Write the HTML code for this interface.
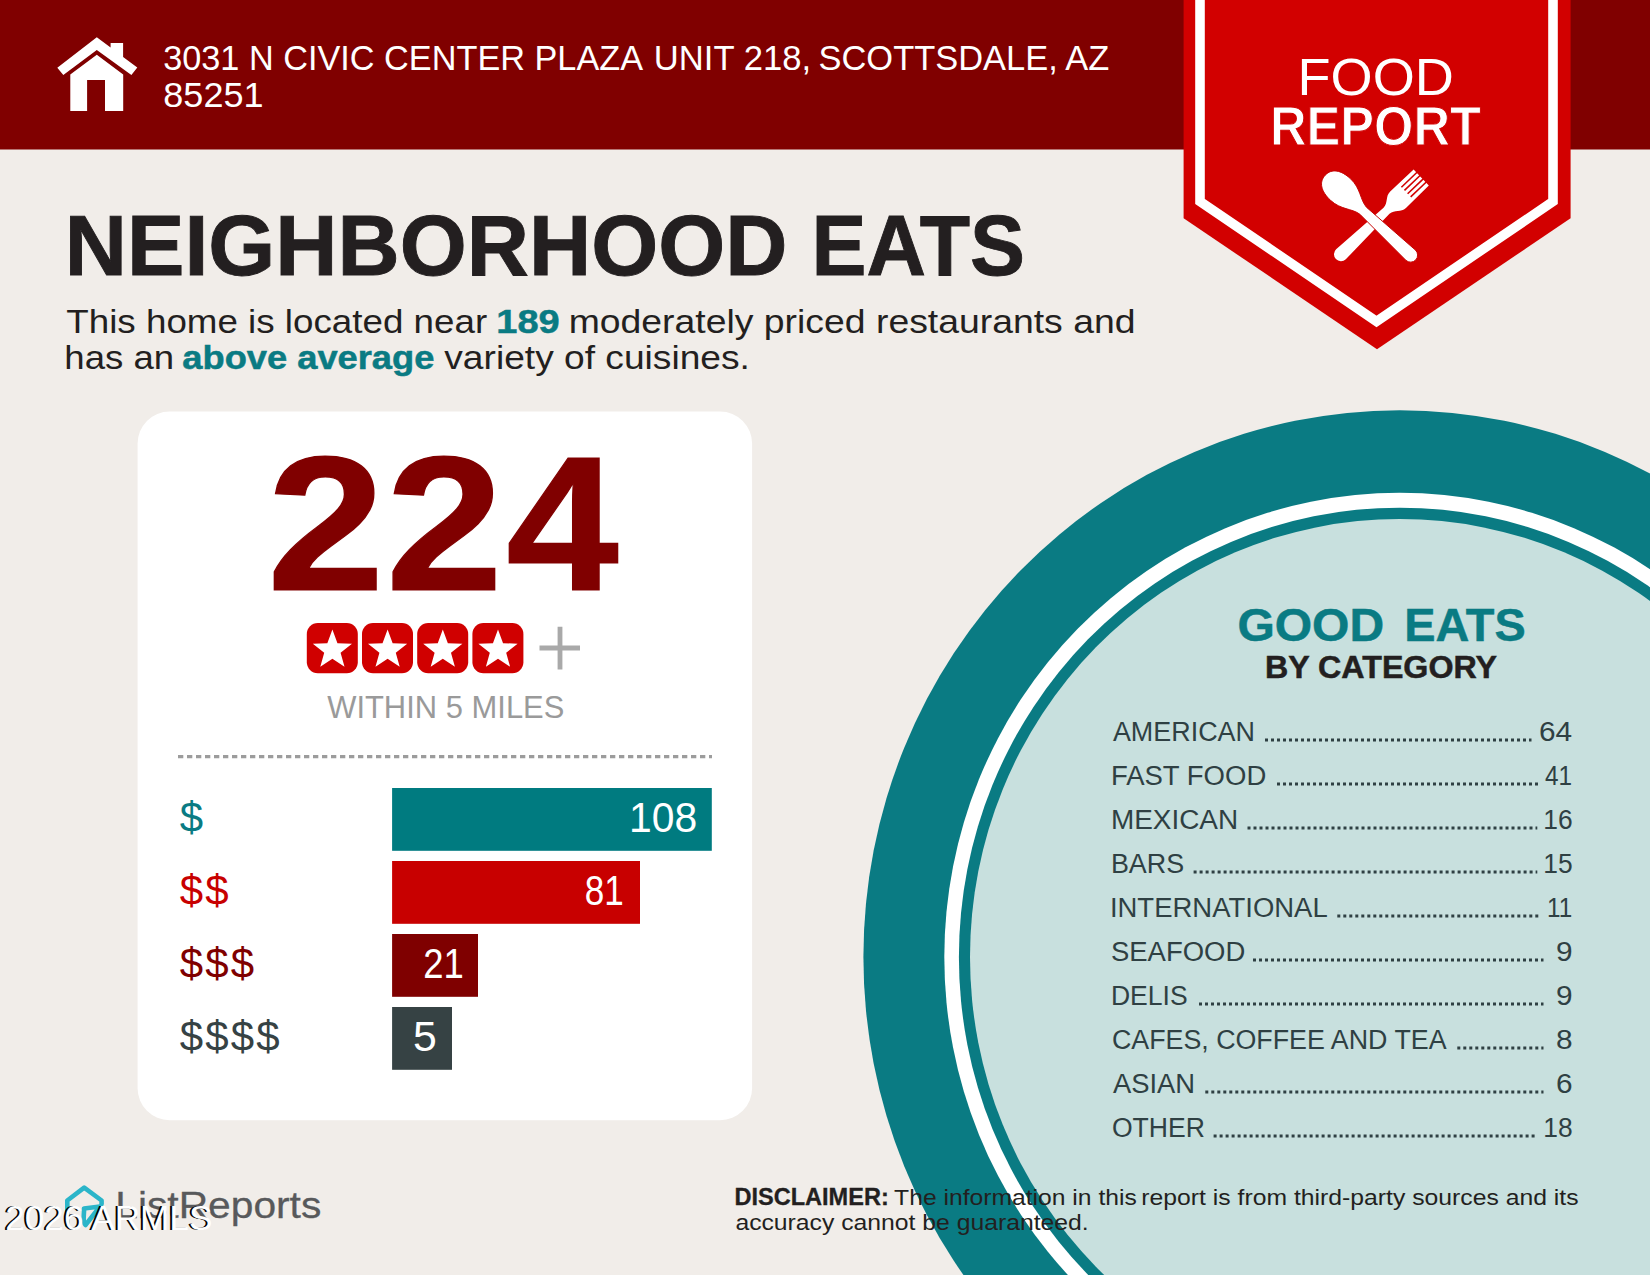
<!DOCTYPE html>
<html lang="en"><head><meta charset="utf-8"><title>Food Report - Neighborhood Eats</title>
<style>
html,body{margin:0;padding:0;background:#f1ede9;}
body{width:1650px;height:1275px;overflow:hidden;}
svg{display:block;}
svg text{font-family:"Liberation Sans",sans-serif;white-space:pre;}
</style></head><body>
<svg width="1650" height="1275" viewBox="0 0 1650 1275" role="img" aria-label="Food Report: Neighborhood Eats">
<rect width="1650" height="1275" fill="#f1ede9"/>
<ellipse cx="1399.7" cy="957" rx="536.3" ry="546.7" fill="#0a7b83"/>
<ellipse cx="1399.7" cy="957" rx="455.4" ry="464.2" fill="#fff"/>
<ellipse cx="1399.7" cy="957" rx="440.8" ry="449.3" fill="#0a7b83"/>
<ellipse cx="1399.7" cy="957" rx="429.7" ry="438" fill="#c8e0de"/>
<rect width="1650" height="149.5" fill="#800000"/>
<g fill="#fff"><polygon points="96.8,37.3 110.6,47.6 110.6,42.9 123.1,42.9 123.1,57 137.3,67.6 131.4,74.9 96.8,50 63.3,75.1 57.3,67.8"/><path d="M96.8,54.8 L123.2,74.6 V111.1 H105 V80.1 H87.1 V111.1 H70.3 V74.6 Z"/></g>
<polygon points="1183.6,0 1570.6,0 1570.6,218.2 1377,349.3 1183.6,218.2" fill="#d20000"/>
<polyline points="1200,0 1200,201.5 1376.5,321.4 1553,201.5 1553,0" fill="none" stroke="#fff" stroke-width="9.6"/>
<g fill="#fff"><g transform="translate(1335.9,259.1) rotate(-43.7)"><path d="M7,-7 L70,-4.3 C77,-4.6 79,-11.4 86,-11.4 L118,-11 V11 L86,11.4 C79,11.4 77,4.6 70,4.3 L7,7 A7,7 0 0 1 7,-7 Z"/><g fill="#d20000"><rect x="97" y="-7.5" width="22" height="1.6"/><rect x="97" y="-3.1" width="22" height="1.6"/><rect x="97" y="1.5" width="22" height="1.6"/><rect x="97" y="5.9" width="22" height="1.6"/></g></g><g transform="translate(1325.2,175.2) rotate(43.1)"><path stroke="#c40000" stroke-width="0.9" d="M0,0 C0,-9.5 8,-14.7 21,-14.7 C35,-14.7 42,-6 52,-4.8 L117,-7 A7,7 0 0 1 117,7 L52,4.8 C42,6 35,14.7 21,14.7 C8,14.7 0,9.5 0,0 Z"/></g></g>
<rect x="137.6" y="411.6" width="614.5" height="708.6" rx="32" fill="#fff"/>
<rect x="306.8" y="623" width="51" height="50.3" rx="11" fill="#d00000"/>
<polygon points="332.40,629.50 337.45,643.14 351.99,643.73 340.58,652.76 344.51,666.77 332.40,658.70 320.29,666.77 324.22,652.76 312.81,643.73 327.35,643.14" fill="#fff"/>
<rect x="362.0" y="623" width="51" height="50.3" rx="11" fill="#d00000"/>
<polygon points="387.60,629.50 392.65,643.14 407.19,643.73 395.78,652.76 399.71,666.77 387.60,658.70 375.49,666.77 379.42,652.76 368.01,643.73 382.55,643.14" fill="#fff"/>
<rect x="417.2" y="623" width="51" height="50.3" rx="11" fill="#d00000"/>
<polygon points="442.80,629.50 447.85,643.14 462.39,643.73 450.98,652.76 454.91,666.77 442.80,658.70 430.69,666.77 434.62,652.76 423.21,643.73 437.75,643.14" fill="#fff"/>
<rect x="472.4" y="623" width="51" height="50.3" rx="11" fill="#d00000"/>
<polygon points="498.00,629.50 503.05,643.14 517.59,643.73 506.18,652.76 510.11,666.77 498.00,658.70 485.89,666.77 489.82,652.76 478.41,643.73 492.95,643.14" fill="#fff"/>
<path d="M539.5,648 H580 M560,626.7 V669.6" stroke="#a9a9a9" stroke-width="4.8" fill="none"/>
<line x1="178" y1="756.6" x2="712" y2="756.6" stroke="#9c9c9c" stroke-width="3.4" stroke-dasharray="5.3 3.7"/>
<rect x="392.1" y="788.0" width="319.7" height="62.8" fill="#007b80"/>
<rect x="392.1" y="861.0" width="247.9" height="62.8" fill="#c80000"/>
<rect x="392.1" y="934.0" width="85.9" height="62.8" fill="#7f0000"/>
<rect x="392.1" y="1007.0" width="59.9" height="62.8" fill="#364244"/>
<line x1="1265" y1="740.1" x2="1531.5" y2="740.1" stroke="#2f4043" stroke-width="3" stroke-dasharray="3 3"/>
<line x1="1277" y1="784.1" x2="1538" y2="784.1" stroke="#2f4043" stroke-width="3" stroke-dasharray="3 3"/>
<line x1="1247.5" y1="828.1" x2="1537.3" y2="828.1" stroke="#2f4043" stroke-width="3" stroke-dasharray="3 3"/>
<line x1="1193.6" y1="872.1" x2="1537.3" y2="872.1" stroke="#2f4043" stroke-width="3" stroke-dasharray="3 3"/>
<line x1="1337.3" y1="916.1" x2="1538.5" y2="916.1" stroke="#2f4043" stroke-width="3" stroke-dasharray="3 3"/>
<line x1="1253" y1="960.1" x2="1543.5" y2="960.1" stroke="#2f4043" stroke-width="3" stroke-dasharray="3 3"/>
<line x1="1199" y1="1004.1" x2="1543.5" y2="1004.1" stroke="#2f4043" stroke-width="3" stroke-dasharray="3 3"/>
<line x1="1457.3" y1="1048.1" x2="1543.5" y2="1048.1" stroke="#2f4043" stroke-width="3" stroke-dasharray="3 3"/>
<line x1="1205.3" y1="1092.1" x2="1543.5" y2="1092.1" stroke="#2f4043" stroke-width="3" stroke-dasharray="3 3"/>
<line x1="1213.6" y1="1136.1" x2="1537.3" y2="1136.1" stroke="#2f4043" stroke-width="3" stroke-dasharray="3 3"/>
<g fill="none" stroke="#2bb5c9" stroke-width="4.6" stroke-linejoin="round" stroke-linecap="round"><path d="M67.3,1225 V1200.5 L84.2,1187.6 L101.6,1200.5 V1204"/><path d="M84,1208.5 L100,1206.5 L85.5,1225 C82,1222 84.5,1214 84,1208.5 Z"/></g>
<text><tspan x="163.2" y="69.7" font-size="35.17" font-weight="400" fill="#fff" textLength="479.88" lengthAdjust="spacingAndGlyphs" >3031 N CIVIC CENTER PLAZA</tspan> <tspan x="653.8" y="69.7" font-size="35.17" font-weight="400" fill="#fff" textLength="157.29" lengthAdjust="spacingAndGlyphs" >UNIT 218,</tspan> <tspan x="818.5" y="69.7" font-size="35.17" font-weight="400" fill="#fff" textLength="290.89" lengthAdjust="spacingAndGlyphs" >SCOTTSDALE, AZ</tspan> <tspan x="163.3" y="106.8" font-size="35.32" font-weight="400" fill="#fff" textLength="100.3" lengthAdjust="spacingAndGlyphs" >85251</tspan></text>
<text><tspan x="1297.5" y="94.5" font-size="51.6" font-weight="400" fill="#fff" textLength="156.34" lengthAdjust="spacingAndGlyphs" >FOOD</tspan> <tspan x="1270.0" y="145.4" font-size="54.94" font-weight="700" fill="#fff" textLength="210.96" lengthAdjust="spacingAndGlyphs" stroke="#d20000" stroke-width="1">REPORT</tspan></text>
<text><tspan x="64.8" y="274.7" font-size="85.03" font-weight="700" fill="#231f20" textLength="722.54" lengthAdjust="spacingAndGlyphs" stroke="#231f20" stroke-width="0.9">NEIGHBORHOOD</tspan> <tspan x="811.5" y="274.7" font-size="85.03" font-weight="700" fill="#231f20" textLength="213.54" lengthAdjust="spacingAndGlyphs" stroke="#231f20" stroke-width="0.9">EATS</tspan></text>
<text><tspan x="66.3" y="332.7" font-size="32.5" font-weight="400" fill="#231f20" textLength="420.89" lengthAdjust="spacingAndGlyphs" >This home is located near</tspan> <tspan x="496.3" y="332.7" font-size="33.6" font-weight="700" fill="#0a7b83" textLength="63.43" lengthAdjust="spacingAndGlyphs" stroke="#0a7b83" stroke-width="0.5">189</tspan> <tspan x="568.7" y="332.7" font-size="32.5" font-weight="400" fill="#231f20" textLength="566.81" lengthAdjust="spacingAndGlyphs" >moderately priced restaurants and</tspan> <tspan x="64.3" y="369.3" font-size="32.5" font-weight="400" fill="#231f20" textLength="109.77" lengthAdjust="spacingAndGlyphs" >has an</tspan> <tspan x="182.3" y="369.3" font-size="32.5" font-weight="700" fill="#0a7b83" textLength="252.06" lengthAdjust="spacingAndGlyphs" stroke="#0a7b83" stroke-width="0.5">above average</tspan> <tspan x="444.3" y="369.3" font-size="32.5" font-weight="400" fill="#231f20" textLength="305.62" lengthAdjust="spacingAndGlyphs" >variety of cuisines.</tspan></text>
<text><tspan x="267.0" y="589.9" font-size="191.42" font-weight="700" fill="#800000" textLength="117.56" lengthAdjust="spacingAndGlyphs" stroke="#800000" stroke-width="1.2">2</tspan><tspan x="385.8" y="589.9" font-size="191.42" font-weight="700" fill="#800000" textLength="117.34" lengthAdjust="spacingAndGlyphs" stroke="#800000" stroke-width="1.2">2</tspan><tspan x="506.3" y="589.9" font-size="191.42" font-weight="700" fill="#800000" textLength="112.51" lengthAdjust="spacingAndGlyphs" stroke="#800000" stroke-width="1.2">4</tspan></text>
<text x="327.2" y="718.1" font-size="31.83" font-weight="400" fill="#9a9a9a" textLength="237.19" lengthAdjust="spacingAndGlyphs" >WITHIN 5 MILES</text>
<text x="629.0" y="832" font-size="41.86" font-weight="400" fill="#fff" textLength="68.13" lengthAdjust="spacingAndGlyphs" >108</text>
<text x="584.8" y="905" font-size="41.86" font-weight="400" fill="#fff" textLength="39.03" lengthAdjust="spacingAndGlyphs" >81</text>
<text x="423.2" y="978" font-size="41.86" font-weight="400" fill="#fff" textLength="40.59" lengthAdjust="spacingAndGlyphs" >21</text>
<text x="412.9" y="1051" font-size="41.86" font-weight="400" fill="#fff" textLength="23.81" lengthAdjust="spacingAndGlyphs" >5</text>
<text><tspan x="1237.4" y="641" font-size="46.22" font-weight="700" fill="#0a7b83" textLength="146.8" lengthAdjust="spacingAndGlyphs" stroke="#0a7b83" stroke-width="0.5">GOOD</tspan> <tspan x="1404.2" y="641" font-size="46.22" font-weight="700" fill="#0a7b83" textLength="121.51" lengthAdjust="spacingAndGlyphs" stroke="#0a7b83" stroke-width="0.5">EATS</tspan></text>
<text x="1265.0" y="677.5" font-size="30.67" font-weight="700" fill="#231f20" textLength="232.02" lengthAdjust="spacingAndGlyphs" stroke="#231f20" stroke-width="0.5">BY CATEGORY</text>
<text><tspan x="734.4" y="1205" font-size="23.3" font-weight="700" fill="#231f20" textLength="154.36" lengthAdjust="spacingAndGlyphs" stroke="#231f20" stroke-width="0.3">DISCLAIMER:</tspan> <tspan x="894.1" y="1205" font-size="21.8" font-weight="400" fill="#231f20" textLength="242.71" lengthAdjust="spacingAndGlyphs" >The information in this</tspan> <tspan x="1141.3" y="1205" font-size="21.8" font-weight="400" fill="#231f20" textLength="437.32" lengthAdjust="spacingAndGlyphs" >report is from third-party sources and its</tspan> <tspan x="735.4" y="1229.6" font-size="21.8" font-weight="400" fill="#231f20" textLength="353.3" lengthAdjust="spacingAndGlyphs" >accuracy cannot be guaranteed.</tspan></text>
<text x="115.3" y="1218" font-size="37.79" font-weight="400" fill="#58595b" textLength="206.02" lengthAdjust="spacingAndGlyphs" stroke="#58595b" stroke-width="0.3">ListReports</text>
<text><tspan x="1112.9" y="741.4" font-size="27.62" font-weight="400" fill="#2f4043" textLength="142.07" lengthAdjust="spacingAndGlyphs" >AMERICAN</tspan> <tspan x="1539.0" y="741.4" font-size="27.62" font-weight="400" fill="#2f4043" textLength="33.18" lengthAdjust="spacingAndGlyphs" >64</tspan></text>
<text><tspan x="1110.9" y="785.4" font-size="27.62" font-weight="400" fill="#2f4043" textLength="155.36" lengthAdjust="spacingAndGlyphs" >FAST FOOD</tspan> <tspan x="1545.0" y="785.4" font-size="27.62" font-weight="400" fill="#2f4043" textLength="27.03" lengthAdjust="spacingAndGlyphs" >41</tspan></text>
<text><tspan x="1110.9" y="829.4" font-size="27.62" font-weight="400" fill="#2f4043" textLength="127.26" lengthAdjust="spacingAndGlyphs" >MEXICAN</tspan> <tspan x="1543.3" y="829.4" font-size="27.62" font-weight="400" fill="#2f4043" textLength="29.37" lengthAdjust="spacingAndGlyphs" >16</tspan></text>
<text><tspan x="1110.9" y="873.4" font-size="27.62" font-weight="400" fill="#2f4043" textLength="73.31" lengthAdjust="spacingAndGlyphs" >BARS</tspan> <tspan x="1543.3" y="873.4" font-size="27.62" font-weight="400" fill="#2f4043" textLength="29.37" lengthAdjust="spacingAndGlyphs" >15</tspan></text>
<text><tspan x="1109.9" y="917.4" font-size="27.62" font-weight="400" fill="#2f4043" textLength="217.84" lengthAdjust="spacingAndGlyphs" >INTERNATIONAL</tspan> <tspan x="1547.0" y="917.4" font-size="27.62" font-weight="400" fill="#2f4043" textLength="25.23" lengthAdjust="spacingAndGlyphs" >11</tspan></text>
<text><tspan x="1110.9" y="961.4" font-size="27.62" font-weight="400" fill="#2f4043" textLength="134.41" lengthAdjust="spacingAndGlyphs" >SEAFOOD</tspan> <tspan x="1556.0" y="961.4" font-size="27.62" font-weight="400" fill="#2f4043" textLength="16.59" lengthAdjust="spacingAndGlyphs" >9</tspan></text>
<text><tspan x="1110.9" y="1005.4" font-size="27.62" font-weight="400" fill="#2f4043" textLength="76.7" lengthAdjust="spacingAndGlyphs" >DELIS</tspan> <tspan x="1556.0" y="1005.4" font-size="27.62" font-weight="400" fill="#2f4043" textLength="16.59" lengthAdjust="spacingAndGlyphs" >9</tspan></text>
<text><tspan x="1111.9" y="1049.4" font-size="27.62" font-weight="400" fill="#2f4043" textLength="334.62" lengthAdjust="spacingAndGlyphs" >CAFES, COFFEE AND TEA</tspan> <tspan x="1556.0" y="1049.4" font-size="27.62" font-weight="400" fill="#2f4043" textLength="16.59" lengthAdjust="spacingAndGlyphs" >8</tspan></text>
<text><tspan x="1112.9" y="1093.4" font-size="27.62" font-weight="400" fill="#2f4043" textLength="82.25" lengthAdjust="spacingAndGlyphs" >ASIAN</tspan> <tspan x="1556.0" y="1093.4" font-size="27.62" font-weight="400" fill="#2f4043" textLength="16.59" lengthAdjust="spacingAndGlyphs" >6</tspan></text>
<text><tspan x="1111.9" y="1137.4" font-size="27.62" font-weight="400" fill="#2f4043" textLength="92.94" lengthAdjust="spacingAndGlyphs" >OTHER</tspan> <tspan x="1543.3" y="1137.4" font-size="27.62" font-weight="400" fill="#2f4043" textLength="29.37" lengthAdjust="spacingAndGlyphs" >18</tspan></text>
<text x="3.3" y="1230" font-size="35.9" font-weight="400" fill="#000" textLength="207.03" lengthAdjust="spacingAndGlyphs" >2026 ARMLS</text>
<text x="5.3" y="1230" font-size="35.9" font-weight="400" fill="#fff" textLength="207.03" lengthAdjust="spacingAndGlyphs" >2026 ARMLS</text>
<text x="179.8" y="832" font-size="42" fill="#0a7b83">$</text>
<text x="179.8 205.3" y="905" font-size="42" fill="#c80000">$$</text>
<text x="179.8 205.3 230.8" y="978" font-size="42" fill="#7f0000">$$$</text>
<text x="179.8 205.3 230.8 256.3" y="1051" font-size="42" fill="#364244">$$$$</text>
</svg>
</body></html>
